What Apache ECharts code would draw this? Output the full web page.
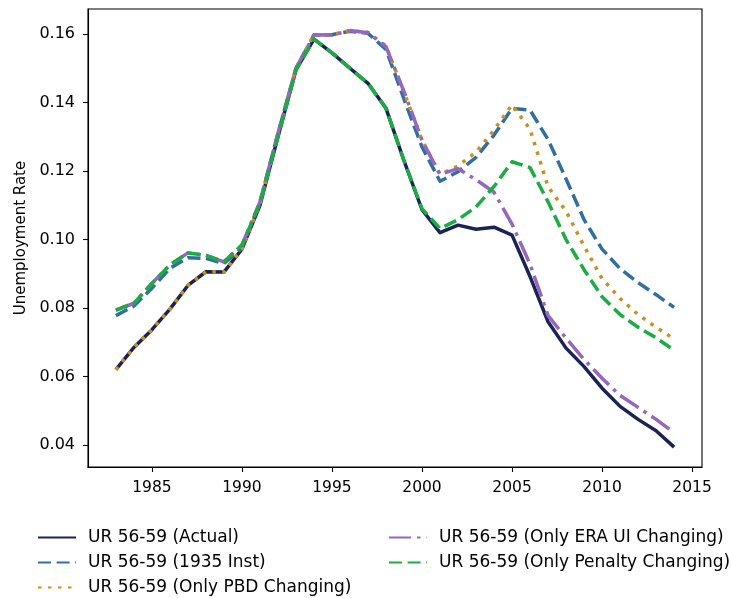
<!DOCTYPE html>
<html>
<head>
<meta charset="utf-8">
<script src="https://cdn.jsdelivr.net/npm/echarts@6/dist/echarts.min.js"></script>
<style>
  html, body { margin: 0; padding: 0; background: #fff; }
  #chart { width: 732px; height: 598px; }
</style>
</head>
<body>
<div id="chart"></div>
<script>
// Unemployment rate, ages 56-59, actual vs. counterfactual scenarios
const years = [1983, 1984, 1985, 1986, 1987, 1988, 1989, 1990, 1991, 1992, 1993, 1994, 1995, 1996, 1997, 1998,
  1999, 2000, 2001, 2002, 2003, 2004, 2005, 2006, 2007, 2008, 2009, 2010, 2011, 2012, 2013, 2014];

const urActual = [0.0620, 0.0685, 0.0737, 0.0797, 0.0866, 0.0906, 0.0905, 0.0972, 0.1100, 0.1300, 0.1495, 0.1585,
  0.1545, 0.1500, 0.1456, 0.1383, 0.1230, 0.1087, 0.1020, 0.1042, 0.1030, 0.1036, 0.1013, 0.0892,
  0.0760, 0.0683, 0.0629, 0.0566, 0.0513, 0.0475, 0.0442, 0.0394];

const ur1935Inst = [0.0778, 0.0806, 0.0858, 0.0916, 0.0947, 0.0945, 0.0930, 0.0975, 0.1110, 0.1310, 0.1500, 0.1597,
  0.1598, 0.1608, 0.1602, 0.1555, 0.1410, 0.1270, 0.1170, 0.1198, 0.1240, 0.1305, 0.1383, 0.1378,
  0.1292, 0.1177, 0.1058, 0.0972, 0.0915, 0.0874, 0.0839, 0.0802];

const urOnlyPBD = [0.0620, 0.0685, 0.0737, 0.0797, 0.0866, 0.0906, 0.0905, 0.0972, 0.1105, 0.1305, 0.1500, 0.1597,
  0.1598, 0.1610, 0.1605, 0.1565, 0.1430, 0.1290, 0.1190, 0.1215, 0.1255, 0.1320, 0.1393, 0.1322,
  0.1154, 0.1083, 0.0981, 0.0886, 0.0828, 0.0781, 0.0744, 0.0710];

const urOnlyEraUI = [0.0794, 0.0814, 0.0872, 0.0926, 0.0961, 0.0954, 0.0935, 0.0984, 0.1110, 0.1310, 0.1500, 0.1598,
  0.1597, 0.1610, 0.1604, 0.1563, 0.1432, 0.1290, 0.1190, 0.1207, 0.1175, 0.1138, 0.1045, 0.0928,
  0.0778, 0.0712, 0.0650, 0.0595, 0.0545, 0.0510, 0.0475, 0.0436];

const urOnlyPenalty = [0.0794, 0.0814, 0.0872, 0.0926, 0.0961, 0.0954, 0.0935, 0.0984, 0.1105, 0.1300, 0.1495, 0.1585,
  0.1545, 0.1500, 0.1456, 0.1383, 0.1230, 0.1090, 0.1032, 0.1058, 0.1095, 0.1155, 0.1227, 0.1210,
  0.1110, 0.1000, 0.0912, 0.0833, 0.0781, 0.0744, 0.0713, 0.0677];

const xTicks = [1985, 1990, 1995, 2000, 2005, 2010, 2015];
const yTicks = [0.04, 0.06, 0.08, 0.10, 0.12, 0.14, 0.16];

const seriesNames = [
  'UR 56-59 (Actual)',
  'UR 56-59 (1935 Inst)',
  'UR 56-59 (Only PBD Changing)',
  'UR 56-59 (Only ERA UI Changing)',
  'UR 56-59 (Only Penalty Changing)'
];

const FONT = 'DejaVu Sans';
const LW = 3.5;

function pairs(vals) {
  return years.map((y, i) => [y, vals[i]]);
}

function lineSeries(name, vals, color, type) {
  return {
    name: name,
    type: 'line',
    data: pairs(vals),
    symbol: 'none',
    showSymbol: false,
    smooth: false,
    animation: false,
    lineStyle: { color: color, width: LW, type: type, cap: 'butt', join: 'round' },
    itemStyle: { color: color },
    emphasis: { disabled: true }
  };
}

const chart = echarts.init(document.getElementById('chart'), null, { renderer: 'canvas' });

const legendText = { fontFamily: FONT, fontSize: 17, color: '#000', padding: [0, 0, 0, 7] };

function legendBlock(names, left) {
  return {
    data: names,
    orient: 'vertical',
    left: left, top: 529,
    width: 340, height: 90,
    padding: 0,
    itemWidth: 38, itemHeight: 14, itemGap: 8,
    itemStyle: { opacity: 0, borderWidth: 0 },
    textStyle: legendText,
    selectedMode: false
  };
}

chart.setOption({
  animation: false,
  backgroundColor: '#fff',
  grid: {
    left: 88, top: 9, width: 614, height: 458,
    show: true, borderColor: '#000', borderWidth: 1.1, backgroundColor: 'transparent'
  },
  xAxis: {
    type: 'value',
    min: 1981.45,
    max: 2015.55,
    axisLine: { show: true, lineStyle: { color: '#000', width: 1.1 } },
    axisTick: { show: true, length: 5, lineStyle: { color: '#000', width: 1.1 }, customValues: xTicks },
    axisLabel: {
      fontFamily: FONT, fontSize: 15.5, color: '#000', margin: 13, customValues: xTicks,
      formatter: v => String(v)
    },
    splitLine: { show: false }
  },
  yAxis: {
    type: 'value',
    min: 0.0336,
    max: 0.1673,
    name: 'Unemployment Rate',
    nameLocation: 'middle',
    nameGap: 58,
    nameRotate: 90,
    nameTextStyle: { fontFamily: FONT, fontSize: 15, color: '#000' },
    axisLine: { show: true, lineStyle: { color: '#000', width: 1.1 } },
    axisTick: { show: true, length: 5, lineStyle: { color: '#000', width: 1.1 }, customValues: yTicks },
    axisLabel: {
      fontFamily: FONT, fontSize: 16, color: '#000', margin: 13, customValues: yTicks,
      formatter: v => v.toFixed(2)
    },
    splitLine: { show: false }
  },
  legend: [
    legendBlock(seriesNames.slice(0, 3), 37),
    legendBlock(seriesNames.slice(3), 388)
  ],
  series: [
    lineSeries(seriesNames[0], urActual, '#1b2354', 'solid'),
    lineSeries(seriesNames[1], ur1935Inst, '#336ea0', [13, 5.6]),
    lineSeries(seriesNames[2], urOnlyPBD, '#c8911e', [3.5, 6.5]),
    lineSeries(seriesNames[3], urOnlyEraUI, '#9368bd', [22, 6, 3.5, 6]),
    lineSeries(seriesNames[4], urOnlyPenalty, '#1dab44', [13, 5.6])
  ]
});
</script>
</body>
</html>
